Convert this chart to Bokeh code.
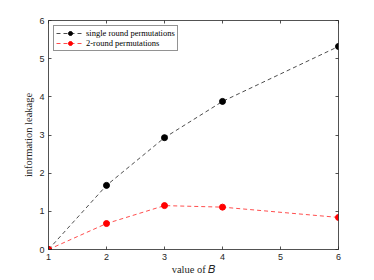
import math
from bokeh.plotting import figure
from bokeh.models import LinearAxis, Range1d, Legend, LegendItem, FixedTicker
from bokeh.embed import file_html
from bokeh.resources import INLINE

b_values = [1, 2, 3, 4, 6]
single_round = [0.0, 1.68, 2.93, 3.88, 5.32]
two_round = [0.0, 0.68, 1.15, 1.11, 0.84]
x_ticks = [1, 2, 3, 4, 5, 6]
y_ticks = [0, 1, 2, 3, 4, 5, 6]
series_names = ["single round permutations", "2-round permutations"]
x_label = "value of \U0001D435"
y_label = "information leakage"

AX = "#262626"

p = figure(width=374, height=280, output_backend="svg", toolbar_location=None,
           x_range=Range1d(1, 6), y_range=Range1d(0, 6),
           min_border_left=48, min_border_right=36, min_border_top=20, min_border_bottom=31,
           background_fill_color="white", border_fill_color="white")
p.outline_line_color = None
p.xgrid.visible = False
p.ygrid.visible = False

def style_axis(ax, labels=True, ticks=None):
    ax.ticker = FixedTicker(ticks=ticks)
    ax.axis_line_color = AX
    ax.axis_line_width = 0.8
    ax.major_tick_line_color = AX
    ax.major_tick_line_width = 0.8
    ax.major_tick_in = 3
    ax.major_tick_out = 0
    ax.minor_tick_line_color = None
    ax.major_label_text_font = "Liberation Sans"
    ax.major_label_text_font_size = "9px"
    ax.major_label_text_color = AX
    ax.major_label_standoff = 4
    ax.axis_label_text_font = "Liberation Serif"
    ax.axis_label_text_font_size = "10.5px"
    ax.axis_label_text_font_style = "normal"
    ax.axis_label_text_color = AX
    if not labels:
        ax.major_label_text_font_size = "0px"
        ax.major_label_text_color = None

style_axis(p.xaxis[0], True, x_ticks)
style_axis(p.yaxis[0], True, y_ticks)
p.xaxis[0].axis_label = x_label
p.xaxis[0].axis_label_standoff = 1
p.yaxis[0].axis_label = y_label
p.yaxis[0].axis_label_standoff = 2
top = LinearAxis()
right = LinearAxis()
style_axis(top, False, x_ticks)
style_axis(right, False, y_ticks)
p.add_layout(top, "above")
p.add_layout(right, "right")

l1 = p.line(b_values, single_round, line_color="black", line_dash="4 3", line_width=0.7)
c1 = p.scatter(b_values, single_round, size=6, fill_color="black", line_color="black")
l2 = p.line(b_values, two_round, line_color="red", line_dash="4 3", line_width=0.7)
c2 = p.scatter(b_values, two_round, size=6, fill_color="red", line_color="red")

legend = Legend(items=[LegendItem(label=series_names[0], renderers=[l1, c1]),
                       LegendItem(label=series_names[1], renderers=[l2, c2])],
                location="top_left")
legend.label_text_font = "Liberation Serif"
legend.label_text_font_size = "8.5px"
legend.label_text_color = "black"
legend.glyph_width = 28
legend.glyph_height = 10
legend.label_height = 10
legend.label_standoff = 2
legend.spacing = 0
legend.padding = 2
legend.margin = 5
legend.border_line_color = AX
legend.border_line_width = 0.6
legend.background_fill_alpha = 1
p.add_layout(legend, "center")

open("out.html", "w").write(file_html(p, INLINE))
